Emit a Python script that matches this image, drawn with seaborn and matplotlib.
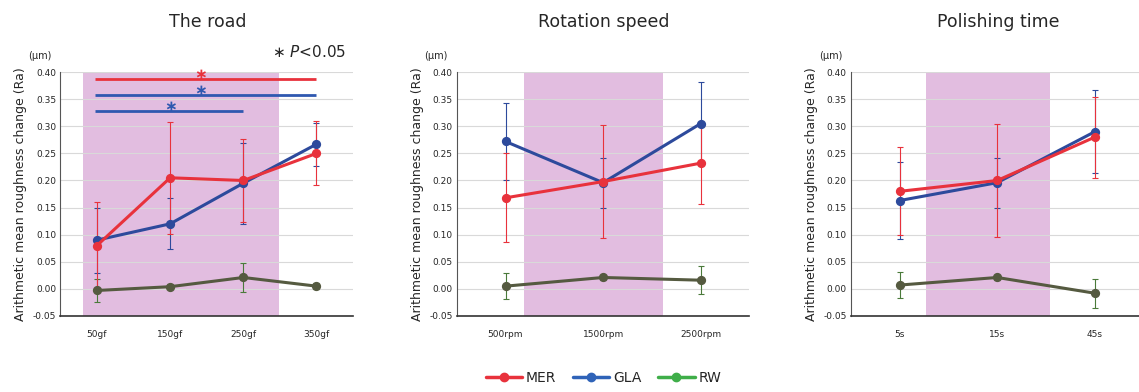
import matplotlib
matplotlib.use("Agg")
import matplotlib.pyplot as plt
from matplotlib.lines import Line2D
import pandas as pd
import seaborn as sns


# =========================
# DATA
# =========================
road_labels = ["50gf", "150gf", "250gf", "350gf"]
road_mer = [0.080, 0.205, 0.200, 0.250]
road_mer_err = [0.081, 0.103, 0.076, 0.059]
road_gla = [0.090, 0.120, 0.195, 0.267]
road_gla_err = [0.060, 0.047, 0.075, 0.040]
road_rw = [-0.003, 0.004, 0.021, 0.005]
road_rw_err = [0.022, 0.005, 0.027, 0.005]

speed_labels = ["500rpm", "1500rpm", "2500rpm"]
speed_mer = [0.168, 0.198, 0.232]
speed_mer_err = [0.082, 0.104, 0.075]
speed_gla = [0.272, 0.196, 0.305]
speed_gla_err = [0.071, 0.046, 0.076]
speed_rw = [0.005, 0.021, 0.016]
speed_rw_err = [0.024, 0.004, 0.026]

time_labels = ["5s", "15s", "45s"]
time_mer = [0.180, 0.200, 0.280]
time_mer_err = [0.081, 0.104, 0.075]
time_gla = [0.163, 0.196, 0.290]
time_gla_err = [0.071, 0.046, 0.077]
time_rw = [0.007, 0.021, -0.008]
time_rw_err = [0.024, 0.004, 0.027]

titles = ["The road", "Rotation speed", "Polishing time"]
series_names = ["MER", "GLA", "RW"]

# significance bars on "The road": (series, start, end, height, star position)
sig_bars = [("MER", 0, 3, 0.387, 1.41), ("GLA", 0, 3, 0.358, 1.41), ("GLA", 0, 2, 0.328, 1.0)]

COLORS = {"MER": "#e8323c", "GLA": "#2d4a9c", "RW": "#4a7a3a"}
LINE_COLORS = {"MER": "#e8323c", "GLA": "#2d4a9c", "RW": "#555a40"}
LEGEND_COLORS = {"MER": "#e8323c", "GLA": "#2f63b8", "RW": "#3fae49"}
SIG_COLORS = {"MER": "#e8323c", "GLA": "#2f58b0"}
PINK = "#e2bde0"

panels = [
    (road_labels, [(road_mer, road_mer_err), (road_gla, road_gla_err), (road_rw, road_rw_err)], (-0.19, 2.49)),
    (speed_labels, [(speed_mer, speed_mer_err), (speed_gla, speed_gla_err), (speed_rw, speed_rw_err)], (0.19, 1.61)),
    (time_labels, [(time_mer, time_mer_err), (time_gla, time_gla_err), (time_rw, time_rw_err)], (0.27, 1.54)),
]
ax_lefts = [0.053, 0.401, 0.747]


def draw_panel(ax, labels, series, span):
    rows = []
    for name, (vals, errs) in zip(series_names, series):
        for lab, v, e in zip(labels, vals, errs):
            rows.append({"cond": lab, "series": name, "value": v, "err": e})
    df = pd.DataFrame(rows)

    ax.axvspan(span[0], span[1], color=PINK, zorder=0, lw=0)

    # error bars first (thin), then lines/points on top
    for name in ["RW", "GLA", "MER"]:
        sub = df[df["series"] == name]
        ax.errorbar(range(len(sub)), sub["value"], yerr=sub["err"], fmt="none",
                    ecolor=COLORS[name], elinewidth=0.8, capsize=2, capthick=0.8, zorder=3)

    for name in ["RW", "GLA", "MER"]:
        sub = df[df["series"] == name]
        sns.pointplot(data=sub, x="cond", y="value", order=labels, color=LINE_COLORS[name],
                      errorbar=None, markers="o", markersize=5, linewidth=2.2, ax=ax, zorder=4)
        ax.collections[-1].set_facecolor(COLORS[name])
        ax.collections[-1].set_edgecolor(COLORS[name])

    ax.set_xlim(-0.5, len(labels) - 0.5)
    ax.set_ylim(-0.05, 0.40)
    ax.set_yticks([i * 0.05 - 0.05 for i in range(10)])
    ax.set_yticklabels([f"{i * 0.05 - 0.05:.2f}" for i in range(10)], fontsize=6.5)
    ax.tick_params(axis="x", labelsize=6.5, length=0, pad=10)
    ax.tick_params(axis="y", length=0, pad=3)
    ax.grid(axis="y", color="#d9d9d9", lw=0.8, zorder=1)
    ax.set_axisbelow(True)
    ax.set_xlabel("")
    ax.set_ylabel("Arithmetic mean roughness change (Ra)", fontsize=9, labelpad=4)
    for side in ["top", "right"]:
        ax.spines[side].set_visible(False)
    ax.spines["left"].set_color("#555555")
    ax.spines["bottom"].set_color("#333333")
    ax.spines["bottom"].set_linewidth(1.2)
    ax.text(-0.03, 1.065, "(μm)", transform=ax.transAxes, fontsize=7, ha="right", va="center")


def main():
    sns.set_style("white")
    plt.rcParams["font.family"] = ["DejaVu Sans"]

    fig = plt.figure(figsize=(11.39, 3.92), dpi=100)

    axes = []
    for left, title, (labels, series, span) in zip(ax_lefts, titles, panels):
        ax = fig.add_axes([left, 0.194, 0.257, 0.622])
        draw_panel(ax, labels, series, span)
        fig.text(left + 0.2585 * 0.5, 0.945, title, ha="center", va="center", fontsize=12.5)
        axes.append(ax)

    # significance markers on the first panel
    ax = axes[0]
    for name, x0, x1, y, xs in sig_bars:
        ax.plot([x0 - 0.02, x1], [y, y], color=SIG_COLORS[name], lw=2, zorder=5, solid_capstyle="butt")
        ax.text(xs, y + 0.009, "∗", color=SIG_COLORS[name], ha="center", va="center",
                fontsize=11, fontweight="bold", zorder=6)
    ax.text(0.975, 1.082, "∗ $P$<0.05", transform=ax.transAxes, ha="right", va="center", fontsize=11)

    handles = [Line2D([0], [0], color=LEGEND_COLORS[n], lw=2.5, marker="o", markersize=6, label=n)
               for n in series_names]
    fig.legend(handles=handles, loc="center", bbox_to_anchor=(0.53, 0.035), ncol=3, frameon=False,
               fontsize=10, handlelength=2.6, handletextpad=0.3, columnspacing=1.2)

    fig.savefig("out.png", dpi=100)
    plt.close(fig)


if __name__ == "__main__":
    main()
